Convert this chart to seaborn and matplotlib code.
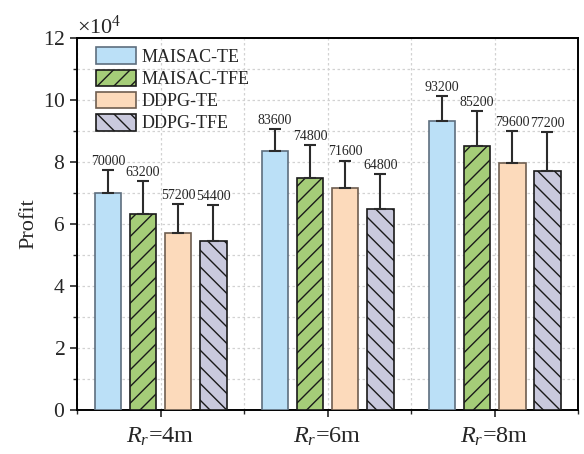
import matplotlib
matplotlib.use("Agg")
import matplotlib.pyplot as plt
import numpy as np
import pandas as pd
import seaborn as sns
from matplotlib.ticker import ScalarFormatter, MultipleLocator, FixedLocator

# ---- data ----
categories = ["$R_r$=4m", "$R_r$=6m", "$R_r$=8m"]
methods = ["MAISAC-TE", "MAISAC-TFE", "DDPG-TE", "DDPG-TFE"]
maisac_te = [70000, 83600, 93200]
maisac_tfe = [63200, 74800, 85200]
ddpg_te = [57200, 71600, 79600]
ddpg_tfe = [54400, 64800, 77200]
err_maisac_te = [7400, 7000, 8000]
err_maisac_tfe = [10700, 10700, 11300]
err_ddpg_te = [9300, 8900, 10400]
err_ddpg_tfe = [11600, 11400, 12600]

values = [maisac_te, maisac_tfe, ddpg_te, ddpg_tfe]
errors = [err_maisac_te, err_maisac_tfe, err_ddpg_te, err_ddpg_tfe]
colors = ["#BBE0F7", "#A5CD78", "#FCDABB", "#C9C9DD"]
edges = ["#5E6E7E", "#1A1A1A", "#6E5E50", "#1A1A1A"]
hatches = ["", "//", "", "\\\\"]

rows = []
for m, vals in zip(methods, values):
    for c, v in zip(categories, vals):
        rows.append({"cat": c, "method": m, "profit": v})
df = pd.DataFrame(rows)

sns.set_style("ticks")
plt.rcParams["font.family"] = ["Liberation Serif", "DejaVu Serif"]
plt.rcParams["mathtext.fontset"] = "custom"
plt.rcParams["mathtext.rm"] = "Liberation Serif"
plt.rcParams["mathtext.it"] = "Liberation Serif:italic"
plt.rcParams["hatch.linewidth"] = 1.0

fig = plt.figure(figsize=(5.84, 4.54), dpi=100)
ax = fig.add_axes([0.132, 0.097, 0.858, 0.819])

sns.barplot(data=df, x="cat", y="profit", hue="method", hue_order=methods,
            order=categories, palette=colors, saturation=1, width=0.84, gap=0.24,
            errorbar=None, legend=False, ax=ax, linewidth=1.2, zorder=3)

bar_conts = list(ax.containers)
for i, cont in enumerate(bar_conts):
    for j, p in enumerate(cont.patches):
        p.set_edgecolor(edges[i])
        p.set_hatch(hatches[i])
        p.set_linewidth(1.2)
        xc = p.get_x() + p.get_width() / 2
        top = p.get_height()
        e = errors[i][j]
        ax.errorbar(xc, top, yerr=[[0], [e]], color="#2b2b2b", lw=1.5,
                    capsize=4.3, capthick=1.5, zorder=4)
        ax.text(xc, top + e + 700, f"{values[i][j]}", ha="center", va="bottom",
                fontsize=10, zorder=5)

ax.set_xlim(-0.5, 2.5)
ax.set_ylim(0, 120000)
ax.yaxis.set_major_locator(MultipleLocator(20000))
ax.yaxis.set_minor_locator(MultipleLocator(10000))
ax.xaxis.set_minor_locator(FixedLocator([-0.5, 0.5, 1.5, 2.5]))
fmt = ScalarFormatter(useMathText=True)
fmt.set_powerlimits((4, 4))
ax.yaxis.set_major_formatter(fmt)
ax.yaxis.get_offset_text().set_fontsize(16)

ax.set_xlabel("")
ax.set_ylabel("Profit", fontsize=16, labelpad=3)
ax.tick_params(axis="y", which="major", labelsize=15.5, direction="out", length=5, width=1.2)
ax.tick_params(axis="x", which="major", labelsize=17.5, direction="out", length=5, width=1.2, pad=6)
ax.tick_params(which="minor", direction="out", length=3, width=1.0)

ax.grid(True, which="both", color="#d2d2d2", linestyle=(0, (2, 2)), linewidth=0.9, zorder=0)
ax.set_axisbelow(True)
for s in ax.spines.values():
    s.set_visible(True)
    s.set_linewidth(1.4)
    s.set_color("black")

leg = ax.legend(bar_conts, methods, loc="upper left",
                bbox_to_anchor=(0.038, 0.975), frameon=False, fontsize=13,
                handlelength=2.2, handleheight=1.05, labelspacing=0.2,
                handletextpad=0.3, borderpad=0, borderaxespad=0)

fig.savefig("out.png", dpi=100)
